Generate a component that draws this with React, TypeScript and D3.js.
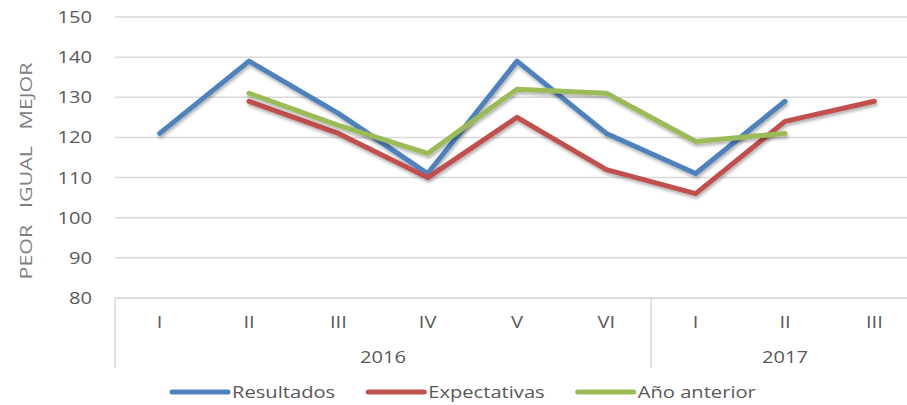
import { useEffect, useRef } from "react";
import * as d3 from "d3";

const quarters = ["I", "II", "III", "IV", "V", "VI", "I", "II", "III"];
const years = [
  { label: "2016", from: 0, to: 6 },
  { label: "2017", from: 6, to: 9 },
];
const resultados: (number | null)[] = [121, 139, 126, 111, 139, 121, 111, 129, null];
const expectativas: (number | null)[] = [null, 129, 121, 110, 125, 112, 106, 124, 129];
const anioAnterior: (number | null)[] = [null, 131, 123, 116, 132, 131, 119, 121, null];
const yTicks = [80, 90, 100, 110, 120, 130, 140, 150];

const SERIES = [
  { name: "Resultados", values: resultados, color: "#4F81BD" },
  { name: "Expectativas", values: expectativas, color: "#C0504D" },
  { name: "Año anterior", values: anioAnterior, color: "#9BBB59" },
];

const FONT = "'Open Sans', sans-serif";
const SX = 1.3; // horizontal stretch of the reference text

export default function App() {
  const ref = useRef<SVGSVGElement>(null);

  useEffect(() => {
    if (!ref.current) return;
    const svg = d3.select(ref.current);
    svg.selectAll("*").remove();

    const W = 907;
    const H = 405;
    svg.attr("width", W).attr("height", H);

    const x = d3.scaleBand<number>().domain(d3.range(quarters.length)).range([115, 919]);
    const y = d3.scaleLinear().domain([80, 150]).range([298, 17]);
    const cx = (i: number) => (x(i) ?? 0) + x.bandwidth() / 2;

    // shadow
    const defs = svg.append("defs");
    defs
      .append("filter")
      .attr("id", "sh")
      .attr("x", "-10%")
      .attr("y", "-10%")
      .attr("width", "120%")
      .attr("height", "130%")
      .append("feDropShadow")
      .attr("dx", 1)
      .attr("dy", 2.5)
      .attr("stdDeviation", 1.5)
      .attr("flood-color", "#000")
      .attr("flood-opacity", 0.3);

    // grid
    svg
      .append("g")
      .selectAll("line")
      .data(yTicks)
      .join("line")
      .attr("x1", 115)
      .attr("x2", 919)
      .attr("y1", (d) => y(d))
      .attr("y2", (d) => y(d))
      .attr("stroke", "#d9d9d9")
      .attr("stroke-width", 1.5);

    // y labels
    svg
      .append("g")
      .selectAll("text")
      .data(yTicks)
      .join("text")
      .attr("transform", (d) => `translate(92,${y(d) + 6}) scale(${SX},1)`)
      .attr("text-anchor", "end")
      .attr("font-family", FONT)
      .attr("font-size", 15.5)
      .attr("fill", "#595959")
      .text((d) => d);

    // y title
    svg
      .append("text")
      .attr("transform", `translate(32,171) rotate(-90) scale(${SX},1)`)
      .attr("text-anchor", "middle")
      .attr("font-family", FONT)
      .attr("font-size", 16.5)
      .attr("fill", "#7f7f7f")
      .style("white-space", "pre")
      .text("PEOR   IGUAL   MEJOR");

    // category axis box
    const ax = svg.append("g").attr("stroke", "#d9d9d9").attr("stroke-width", 1.5);
    ax.append("line").attr("x1", 115).attr("x2", 919).attr("y1", y(80)).attr("y2", y(80));
    ax.selectAll("line.v")
      .data(years.map((yr) => yr.from).concat([quarters.length]))
      .join("line")
      .attr("class", "v")
      .attr("x1", (d) => (d < quarters.length ? x(d)! : x.range()[1]))
      .attr("x2", (d) => (d < quarters.length ? x(d)! : x.range()[1]))
      .attr("y1", y(80))
      .attr("y2", 368);

    svg
      .append("g")
      .selectAll("text")
      .data(quarters)
      .join("text")
      .attr("transform", (_, i) => `translate(${cx(i)},328) scale(${SX},1)`)
      .attr("text-anchor", "middle")
      .attr("font-family", FONT)
      .attr("font-size", 15.5)
      .attr("fill", "#595959")
      .text((d) => d);

    svg
      .append("g")
      .selectAll("text")
      .data(years)
      .join("text")
      .attr("transform", (d) => {
        const a = x(d.from)!;
        const b = d.to < quarters.length ? x(d.to)! : x.range()[1];
        return `translate(${(a + b) / 2},363) scale(${SX},1)`;
      })
      .attr("text-anchor", "middle")
      .attr("font-family", FONT)
      .attr("font-size", 15.5)
      .attr("fill", "#595959")
      .text((d) => d.label);

    // lines
    const line = d3
      .line<number | null>()
      .defined((d) => d !== null)
      .x((_, i) => cx(i))
      .y((d) => y(d as number));

    SERIES.forEach((s) => {
      svg
        .append("path")
        .datum(s.values)
        .attr("fill", "none")
        .attr("stroke", s.color)
        .attr("stroke-width", 5)
        .attr("stroke-linecap", "round")
        .attr("stroke-linejoin", "round")
        .attr("filter", "url(#sh)")
        .attr("d", line);
    });

    // legend
    const leg = svg.append("g");
    let lx = 172;
    SERIES.forEach((s) => {
      leg
        .append("line")
        .attr("x1", lx)
        .attr("x2", lx + 56)
        .attr("y1", 392)
        .attr("y2", 392)
        .attr("stroke", s.color)
        .attr("stroke-width", 5)
        .attr("stroke-linecap", "round");
      const t = leg
        .append("text")
        .attr("transform", `translate(${lx + 60},398) scale(${SX},1)`)
        .attr("font-family", FONT)
        .attr("font-size", 15.5)
        .attr("fill", "#595959")
        .text(s.name);
      const tw = (t.node() as SVGTextElement).getComputedTextLength() * SX;
      lx += 60 + tw + 33;
    });
  }, []);

  return <svg ref={ref} style={{ position: "absolute", left: 0, top: 0 }} />;
}
